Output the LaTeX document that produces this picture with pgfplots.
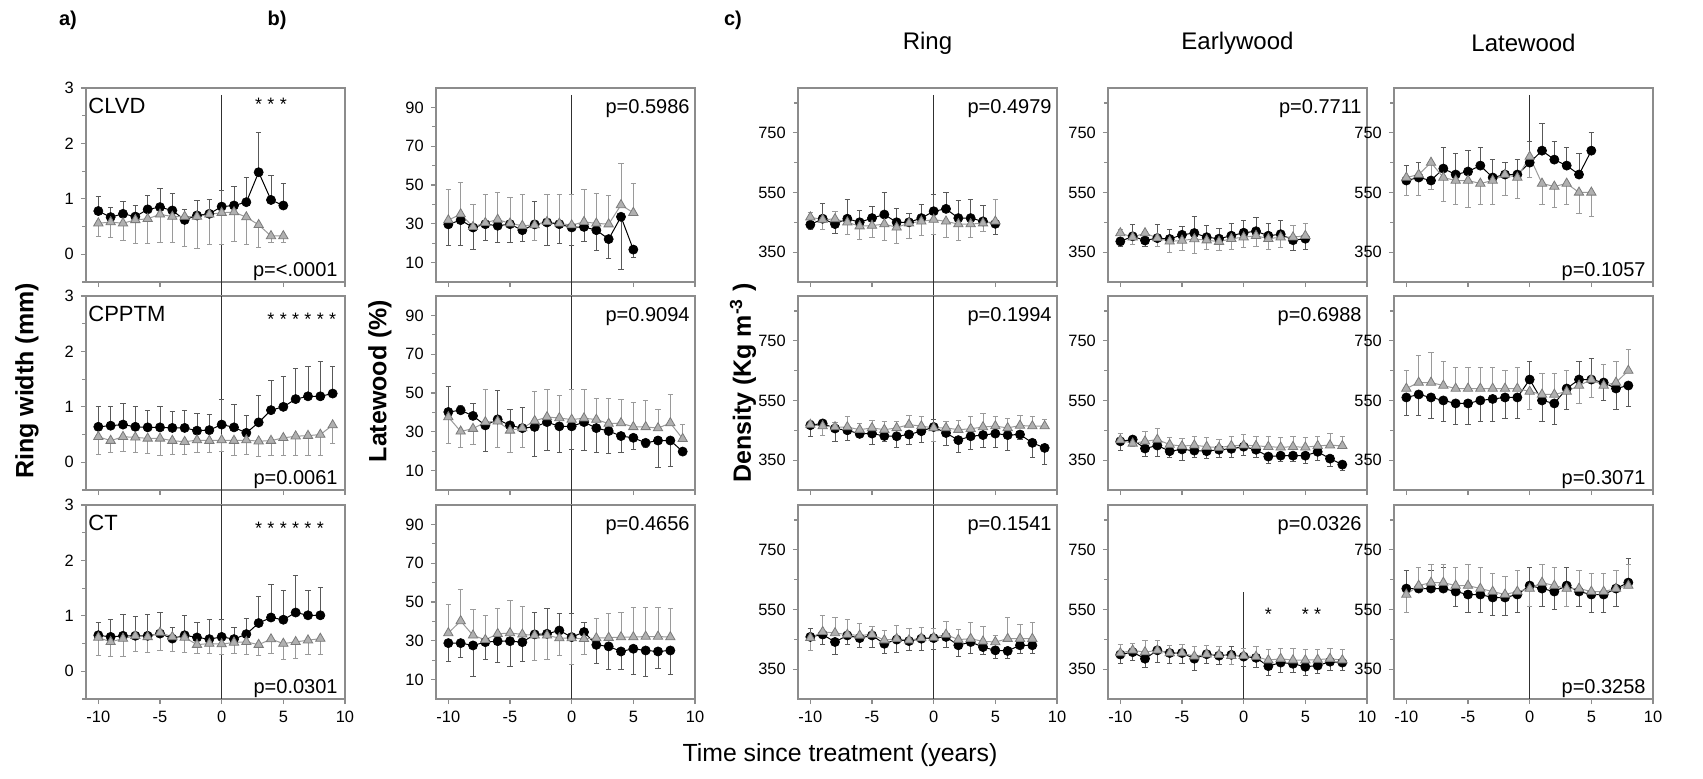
\documentclass[border=0pt]{standalone}
\usepackage{fontspec}
\setmainfont{Liberation Sans}
\usepackage{pgfplots}
\pgfplotsset{compat=1.18}
\definecolor{axgray}{HTML}{8C8C8C}
\definecolor{trifill}{HTML}{B0B0B0}
\definecolor{triedge}{HTML}{7A7A7A}
\definecolor{gline}{HTML}{9A9A9A}
\definecolor{vline}{HTML}{303030}
\pgfplotsset{
 panel/.style={scale only axis, width=129.5pt, height=97pt, xmin=-11, xmax=10, xtick={-10,-5,0,5,10},
   axis line style={axgray, line width=0.6pt}, tick style={axgray, line width=0.6pt},
   major tick length=2.6pt, minor tick length=1.8pt, tick align=outside, xtick pos=bottom, ytick pos=left,
   tick label style={font=\fontsize{8.2}{9}\selectfont, black}, /pgf/number format/assume math mode=true,
   clip=false},
 pa/.style={panel, ymin=-0.5, ymax=3, ytick={0,1,2,3}, minor ytick={-0.5,0.5,1.5,2.5}},
 pb/.style={panel, ymin=0, ymax=100, ytick={10,30,50,70,90}, minor ytick={20,40,60,80}},
 pc/.style={panel, ymin=250, ymax=900, ytick={350,550,750}, minor ytick={450,650,850}},
 blk/.style={draw=black, line width=0.5pt, mark=*, mark size=2.3pt, mark options={fill=black, draw=black, line width=0.3pt},
   error bars/.cd, y dir=both, y explicit, error bar style={draw=black!65, line width=0.45pt},
   error mark options={rotate=90, draw=black!65, line width=0.45pt, mark size=1.4pt}},
 gry/.style={draw=gline, line width=0.5pt, mark=triangle*, mark size=2.7pt, mark options={fill=trifill, draw=triedge, line width=0.4pt},
   error bars/.cd, y dir=both, y explicit, error bar style={draw=gline, line width=0.45pt},
   error mark options={rotate=90, draw=gline, line width=0.45pt, mark size=1.4pt}},
}
\newcommand{\ser}[2]{\addplot[#1] table[x=x,y=y,row sep=\\,y error plus expr={max(\thisrow{b}-\thisrow{y},0)},y error minus expr={max(\thisrow{y}-\thisrow{b},0)}] {x y b\\ #2};}
\newcommand{\ptop}[1]{\node[anchor=base east, inner sep=0pt, font=\fontsize{10}{10}\selectfont] at ([xshift=-2.5pt,yshift=-12.6pt]rel axis cs:1,1) {#1};}
\newcommand{\pbot}[1]{\node[anchor=base east, inner sep=0pt, font=\fontsize{10}{10}\selectfont] at ([xshift=-3.5pt,yshift=2.6pt]rel axis cs:1,0) {#1};}
\newcommand{\plab}[1]{\node[anchor=base west, inner sep=0pt, font=\fontsize{11}{11}\selectfont] at ([xshift=1pt,yshift=-12.6pt]rel axis cs:0,1) {#1};}
\newcommand{\st}[2]{\node[anchor=base, inner sep=0pt, font=\fontsize{9}{9}\selectfont] at (axis cs:#1,#2) {*};}
\begin{document}
\begin{tikzpicture}
\path[use as bounding box] (0pt,0pt) rectangle (851.5pt,389.5pt);
% ---------------- column a ----------------
\begin{axis}[pa, at={(43pt,345.5pt)}, anchor=north west, xticklabels={}]
\draw[vline, line width=0.75pt] (axis cs:0,2.874) -- ([yshift=-7pt]axis cs:0,-0.5);
\ser{blk}{-10 0.78 1.04\\ -9 0.67 0.85\\ -8 0.73 0.96\\ -7 0.68 0.88\\ -6 0.81 1.07\\ -5 0.85 1.18\\ -4 0.79 1.09\\ -3 0.62 0.80\\ -2 0.70 0.97\\ -1 0.73 0.99\\ 0 0.86 1.15\\ 1 0.88 1.23\\ 2 0.94 1.38\\ 3 1.48 2.20\\ 4 0.98 1.42\\ 5 0.88 1.27\\}
\ser{gry}{-10 0.56 0.33\\ -9 0.58 0.31\\ -8 0.56 0.25\\ -7 0.62 0.20\\ -6 0.64 0.20\\ -5 0.72 0.21\\ -4 0.68 0.21\\ -3 0.68 0.15\\ -2 0.68 0.11\\ -1 0.72 0.17\\ 0 0.75 0.18\\ 1 0.76 0.23\\ 2 0.67 0.17\\ 3 0.53 0.12\\ 4 0.33 0.21\\ 5 0.33 0.21\\}
\plab{CLVD}\pbot{p=<.0001}
\st{3}{2.596}\st{4}{2.596}\st{5}{2.596}
\end{axis}
\begin{axis}[pa, at={(43pt,241.5pt)}, anchor=north west, xticklabels={}]
\draw[vline, line width=0.75pt] (axis cs:0,3) -- ([yshift=-7.5pt]axis cs:0,-0.5);
\ser{blk}{-10 0.64 1.01\\ -9 0.66 1.01\\ -8 0.68 1.06\\ -7 0.64 1.01\\ -6 0.63 0.94\\ -5 0.63 1.01\\ -4 0.62 0.91\\ -3 0.62 0.94\\ -2 0.57 0.88\\ -1 0.58 0.86\\ 0 0.68 1.13\\ 1 0.63 1.04\\ 2 0.53 0.85\\ 3 0.72 1.21\\ 4 0.94 1.48\\ 5 1.00 1.55\\ 6 1.14 1.69\\ 7 1.19 1.72\\ 8 1.19 1.81\\ 9 1.24 1.72\\}
\ser{gry}{-10 0.46 0.14\\ -9 0.39 0.18\\ -8 0.46 0.20\\ -7 0.45 0.18\\ -6 0.43 0.16\\ -5 0.43 0.13\\ -4 0.39 0.15\\ -3 0.37 0.15\\ -2 0.40 0.17\\ -1 0.39 0.17\\ 0 0.40 0.19\\ 1 0.39 0.12\\ 2 0.40 0.15\\ 3 0.38 0.10\\ 4 0.39 0.12\\ 5 0.44 0.12\\ 6 0.47 0.12\\ 7 0.48 0.13\\ 8 0.50 0.12\\ 9 0.67 0.34\\}
\plab{CPPTM}\pbot{p=0.0061}
\st{4}{2.459}\st{5}{2.459}\st{6}{2.459}\st{7}{2.459}\st{8}{2.459}\st{9}{2.459}
\end{axis}
\begin{axis}[pa, at={(43pt,137pt)}, anchor=north west]
\draw[vline, line width=0.75pt] (axis cs:0,3) -- (axis cs:0,-0.5);
\ser{blk}{-10 0.65 0.88\\ -9 0.62 0.94\\ -8 0.64 1.02\\ -7 0.64 0.99\\ -6 0.64 1.02\\ -5 0.68 1.06\\ -4 0.59 0.79\\ -3 0.65 1.00\\ -2 0.61 0.88\\ -1 0.58 0.93\\ 0 0.62 0.94\\ 1 0.58 0.79\\ 2 0.67 0.96\\ 3 0.87 1.35\\ 4 0.97 1.56\\ 5 0.93 1.45\\ 6 1.06 1.72\\ 7 1.01 1.46\\ 8 1.01 1.52\\}
\ser{gry}{-10 0.61 0.29\\ -9 0.53 0.26\\ -8 0.59 0.26\\ -7 0.64 0.35\\ -6 0.62 0.34\\ -5 0.70 0.38\\ -4 0.62 0.35\\ -3 0.61 0.34\\ -2 0.48 0.32\\ -1 0.50 0.32\\ 0 0.49 0.31\\ 1 0.52 0.32\\ 2 0.53 0.31\\ 3 0.48 0.28\\ 4 0.58 0.32\\ 5 0.50 0.21\\ 6 0.53 0.23\\ 7 0.56 0.31\\ 8 0.59 0.31\\}
\plab{CT}\pbot{p=0.0301}
\st{3}{2.459}\st{4}{2.459}\st{5}{2.459}\st{6}{2.459}\st{7}{2.459}\st{8}{2.459}
\end{axis}
% ---------------- column b ----------------
\begin{axis}[pb, at={(218pt,345.5pt)}, anchor=north west, xticklabels={}]
\draw[vline, line width=0.75pt] (axis cs:0,96.4) -- ([yshift=-7pt]axis cs:0,0);
\ser{blk}{-10 29.7 18.6\\ -9 31.9 19.0\\ -8 28.1 16.9\\ -7 29.8 21.2\\ -6 29.0 20.3\\ -5 29.8 20.3\\ -4 26.7 20.7\\ -3 29.7 41.7\\ -2 30.7 19.0\\ -1 29.8 19.8\\ 0 28.1 19.0\\ 1 28.4 20.7\\ 2 26.7 16.0\\ 3 22.1 12.1\\ 4 33.6 6.6\\ 5 16.7 12.9\\}
\ser{gry}{-10 31.9 47.9\\ -9 35.0 51.4\\ -8 28.4 40.2\\ -7 30.5 45.2\\ -6 32.2 46.0\\ -5 30.2 43.6\\ -4 29.0 45.3\\ -3 29.3 21.6\\ -2 31.0 45.3\\ -1 30.2 45.3\\ 0 29.3 45.3\\ 1 31.0 47.8\\ 2 30.2 45.7\\ 3 29.8 44.5\\ 4 39.7 60.9\\ 5 35.7 50.9\\}
\ptop{p=0.5986}
\end{axis}
\begin{axis}[pb, at={(218pt,241.5pt)}, anchor=north west, xticklabels={}]
\draw[vline, line width=0.75pt] (axis cs:0,100) -- ([yshift=-7.5pt]axis cs:0,0);
\ser{blk}{-10 40.2 53.2\\ -9 41.1 43.7\\ -8 38.2 44.5\\ -7 33.3 19.8\\ -6 36.4 51.5\\ -5 33.3 41.4\\ -4 31.9 42.8\\ -3 32.5 17.4\\ -2 35.0 20.4\\ -1 32.8 19.5\\ 0 32.8 20.9\\ 1 35.0 20.4\\ 2 31.9 19.2\\ 3 30.4 19.0\\ 4 27.8 19.2\\ 5 26.9 20.7\\ 6 24.3 21.7\\ 7 25.5 11.7\\ 8 25.5 12.1\\ 9 19.8 19.8\\}
\ser{gry}{-10 37.6 24.2\\ -9 30.2 22.1\\ -8 31.6 23.5\\ -7 35.0 52.0\\ -6 35.4 21.7\\ -5 30.7 19.2\\ -4 31.9 22.1\\ -3 35.6 50.6\\ -2 37.6 51.8\\ -1 37.1 48.9\\ 0 36.3 52.0\\ 1 37.0 52.0\\ 2 36.3 47.1\\ 3 34.2 47.1\\ 4 34.5 46.8\\ 5 32.5 44.9\\ 6 32.5 45.9\\ 7 31.9 41.4\\ 8 34.5 49.4\\ 9 26.4 33.8\\}
\ptop{p=0.9094}
\end{axis}
\begin{axis}[pb, at={(218pt,137pt)}, anchor=north west]
\draw[vline, line width=0.75pt] (axis cs:0,100) -- (axis cs:0,0);
\ser{blk}{-10 28.8 19.5\\ -9 28.8 21.6\\ -8 27.6 11.6\\ -7 29.3 20.2\\ -6 29.8 18.6\\ -5 29.8 16.7\\ -4 29.3 19.3\\ -3 33.3 44.8\\ -2 33.6 46.6\\ -1 35.3 44.0\\ 0 31.9 44.0\\ 1 34.5 39.3\\ 2 27.9 18.1\\ 3 27.1 15.0\\ 4 24.5 15.0\\ 5 25.9 12.9\\ 6 25.0 11.7\\ 7 24.5 16.0\\ 8 25.0 12.9\\}
\ser{gry}{-10 34.0 48.8\\ -9 40.2 56.4\\ -8 32.8 46.2\\ -7 30.5 43.1\\ -6 33.6 46.6\\ -5 34.0 50.9\\ -4 33.3 47.8\\ -3 32.8 19.8\\ -2 32.8 20.3\\ -1 31.4 22.4\\ 0 31.4 17.6\\ 1 31.0 22.8\\ 2 31.4 41.4\\ 3 31.6 44.0\\ 4 31.9 44.8\\ 5 31.9 47.4\\ 6 32.2 47.4\\ 7 32.2 47.4\\ 8 31.9 46.6\\}
\ptop{p=0.4656}
\end{axis}
% ---------------- column c1 Ring ----------------
\begin{axis}[pc, at={(399pt,345.5pt)}, anchor=north west, xticklabels={}]
\draw[vline, line width=0.75pt] (axis cs:0,876.5) -- ([yshift=-7pt]axis cs:0,250);
\ser{blk}{-10 442 426\\ -9 462 512\\ -8 444 414\\ -7 462 526\\ -6 450 490\\ -5 464 503\\ -4 476 550\\ -3 450 498\\ -2 450 481\\ -1 464 509\\ 0 487 543\\ 1 495 551\\ 2 464 523\\ 3 464 526\\ 4 453 506\\ 5 445 408\\}
\ser{gry}{-10 467 483\\ -9 459 426\\ -8 461 487\\ -7 450 409\\ -6 437 392\\ -5 439 400\\ -4 444 389\\ -3 433 380\\ -2 447 397\\ -1 453 405\\ 0 459 408\\ 1 453 400\\ 2 444 389\\ 3 444 400\\ 4 447 419\\ 5 453 526\\}
\ptop{p=0.4979}
\end{axis}
\begin{axis}[pc, at={(399pt,241.5pt)}, anchor=north west, xticklabels={}]
\draw[vline, line width=0.75pt] (axis cs:0,900) -- ([yshift=-7.5pt]axis cs:0,250);
\ser{blk}{-10 467 430\\ -9 473 483\\ -8 456 413\\ -7 450 417\\ -6 438 425\\ -5 439 402\\ -4 431 413\\ -3 430 391\\ -2 436 402\\ -1 447 408\\ 0 461 488\\ 1 441 399\\ 2 417 377\\ 3 430 386\\ 4 434 391\\ 5 439 391\\ 6 434 382\\ 7 436 419\\ 8 408 360\\ 9 391 335\\}
\ser{gry}{-10 469 483\\ -9 464 432\\ -8 461 475\\ -7 461 497\\ -6 452 472\\ -5 458 483\\ -4 452 480\\ -3 458 478\\ -2 469 499\\ -1 464 495\\ 0 458 414\\ 1 458 480\\ 2 452 484\\ 3 455 497\\ 4 461 505\\ 5 464 497\\ 6 458 491\\ 7 466 499\\ 8 464 497\\ 9 464 488\\}
\ptop{p=0.1994}
\end{axis}
\begin{axis}[pc, at={(399pt,137pt)}, anchor=north west]
\draw[vline, line width=0.75pt] (axis cs:0,900) -- (axis cs:0,250);
\ser{blk}{-10 458 486\\ -9 466 432\\ -8 441 399\\ -7 463 432\\ -6 454 424\\ -5 463 424\\ -4 435 402\\ -3 449 407\\ -2 444 413\\ -1 452 413\\ 0 454 415\\ 1 458 424\\ 2 430 393\\ 3 441 404\\ 4 424 398\\ 5 413 385\\ 6 411 385\\ 7 430 402\\ 8 430 404\\}
\ser{gry}{-10 455 413\\ -9 475 531\\ -8 471 522\\ -7 466 516\\ -6 463 503\\ -5 466 494\\ -4 447 480\\ -3 452 497\\ -2 447 486\\ -1 454 489\\ 0 456 486\\ 1 466 511\\ 2 449 483\\ 3 452 505\\ 4 443 494\\ 5 441 463\\ 6 452 522\\ 7 452 500\\ 8 452 508\\}
\ptop{p=0.1541}
\end{axis}
% ---------------- column c2 Earlywood ----------------
\begin{axis}[pc, at={(554pt,345.5pt)}, anchor=north west, xticklabels={}]
\ser{blk}{-10 386 370\\ -9 403 444\\ -8 389 369\\ -7 397 444\\ -6 394 427\\ -5 408 436\\ -4 414 468\\ -3 400 440\\ -2 395 430\\ -1 405 445\\ 0 415 455\\ 1 420 465\\ 2 405 445\\ 3 410 455\\ 4 390 355\\ 5 395 360\\}
\ser{gry}{-10 414 427\\ -9 400 375\\ -8 414 419\\ -7 397 369\\ -6 386 349\\ -5 389 356\\ -4 394 347\\ -3 390 360\\ -2 385 355\\ -1 395 360\\ 0 400 365\\ 1 405 370\\ 2 395 360\\ 3 400 365\\ 4 400 440\\ 5 405 445\\}
\ptop{p=0.7711}
\end{axis}
\begin{axis}[pc, at={(554pt,241.5pt)}, anchor=north west, xticklabels={}]
\ser{blk}{-10 413 383\\ -9 419 425\\ -8 389 361\\ -7 399 363\\ -6 380 360\\ -5 386 350\\ -4 382 358\\ -3 380 355\\ -2 385 360\\ -1 388 360\\ 0 395 365\\ 1 385 360\\ 2 362 340\\ 3 365 345\\ 4 365 345\\ 5 365 340\\ 6 378 350\\ 7 355 330\\ 8 335 315\\}
\ser{gry}{-10 417 441\\ -9 406 397\\ -8 413 445\\ -7 419 455\\ -6 402 425\\ -5 397 422\\ -4 400 430\\ -3 395 425\\ -2 392 420\\ -1 398 430\\ 0 400 435\\ 1 398 430\\ 2 395 430\\ 3 393 425\\ 4 395 430\\ 5 393 425\\ 6 398 430\\ 7 400 440\\ 8 398 430\\}
\ptop{p=0.6988}
\end{axis}
\begin{axis}[pc, at={(554pt,137pt)}, anchor=north west]
\draw[vline, line width=0.75pt] (axis cs:0,608) -- (axis cs:0,250);
\ser{blk}{-10 399 368\\ -9 407 379\\ -8 385 357\\ -7 413 374\\ -6 404 370\\ -5 404 368\\ -4 385 346\\ -3 400 370\\ -2 395 365\\ -1 398 425\\ 0 392 360\\ 1 388 355\\ 2 360 330\\ 3 372 340\\ 4 368 338\\ 5 358 330\\ 6 362 335\\ 7 375 345\\ 8 372 345\\}
\ser{gry}{-10 404 433\\ -9 413 435\\ -8 407 447\\ -7 413 447\\ -6 404 430\\ -5 404 433\\ -4 393 425\\ -3 400 430\\ -2 398 425\\ -1 395 365\\ 0 395 420\\ 1 392 425\\ 2 380 415\\ 3 385 420\\ 4 380 418\\ 5 380 415\\ 6 382 415\\ 7 385 420\\ 8 380 415\\}
\ptop{p=0.0326}
\st{2}{513}\st{5}{513}\st{6}{513}
\end{axis}
% ---------------- column c3 Latewood ----------------
\begin{axis}[pc, at={(697pt,345.5pt)}, anchor=north west, xticklabels={}]
\draw[vline, line width=0.75pt] (axis cs:0,876.5) -- (axis cs:0,700);
\ser{blk}{-10 590 640\\ -9 600 650\\ -8 590 650\\ -7 630 700\\ -6 610 680\\ -5 620 690\\ -4 640 700\\ -3 600 660\\ -2 610 650\\ -1 610 660\\ 0 650 720\\ 1 690 780\\ 2 660 720\\ 3 640 700\\ 4 610 680\\ 5 690 750\\}
\ser{gry}{-10 600 540\\ -9 610 540\\ -8 650 560\\ -7 600 520\\ -6 590 510\\ -5 590 500\\ -4 580 510\\ -3 590 510\\ -2 610 540\\ -1 600 530\\ 0 670 600\\ 1 580 510\\ 2 570 500\\ 3 580 510\\ 4 550 480\\ 5 550 470\\}
\pbot{p=0.1057}
\end{axis}
\begin{axis}[pc, at={(697pt,241.5pt)}, anchor=north west, xticklabels={}]
\ser{blk}{-10 560 500\\ -9 570 500\\ -8 560 490\\ -7 550 480\\ -6 540 470\\ -5 540 470\\ -4 550 480\\ -3 555 480\\ -2 560 490\\ -1 560 490\\ 0 620 680\\ 1 550 480\\ 2 540 470\\ 3 590 520\\ 4 620 680\\ 5 620 690\\ 6 610 550\\ 7 590 520\\ 8 600 530\\}
\ser{gry}{-10 590 650\\ -9 610 700\\ -8 610 710\\ -7 600 680\\ -6 590 660\\ -5 590 660\\ -4 590 660\\ -3 590 660\\ -2 590 650\\ -1 590 660\\ 0 580 520\\ 1 570 640\\ 2 570 640\\ 3 580 650\\ 4 600 540\\ 5 620 560\\ 6 600 670\\ 7 610 680\\ 8 650 720\\}
\pbot{p=0.3071}
\end{axis}
\begin{axis}[pc, at={(697pt,137pt)}, anchor=north west]
\draw[vline, line width=0.75pt] (axis cs:0,640) -- (axis cs:0,250);
\ser{blk}{-10 620 680\\ -9 620 690\\ -8 620 680\\ -7 620 690\\ -6 610 560\\ -5 600 540\\ -4 600 540\\ -3 590 530\\ -2 590 530\\ -1 600 540\\ 0 630 690\\ 1 620 560\\ 2 610 550\\ 3 630 690\\ 4 610 560\\ 5 600 540\\ 6 600 540\\ 7 620 560\\ 8 640 720\\}
\ser{gry}{-10 600 540\\ -9 630 690\\ -8 640 700\\ -7 640 700\\ -6 630 690\\ -5 630 700\\ -4 620 690\\ -3 610 670\\ -2 600 660\\ -1 610 680\\ 0 620 560\\ 1 640 700\\ 2 630 690\\ 3 620 560\\ 4 620 680\\ 5 610 670\\ 6 610 670\\ 7 620 680\\ 8 630 700\\}
\pbot{p=0.3258}
\end{axis}
% ---------------- texts ----------------
\node[font=\bfseries\fontsize{10}{10}\selectfont] at (34pt,379.5pt) {a)};
\node[font=\bfseries\fontsize{10}{10}\selectfont] at (138.5pt,379.5pt) {b)};
\node[font=\bfseries\fontsize{10}{10}\selectfont] at (366.5pt,379.5pt) {c)};
\node[font=\fontsize{12}{12}\selectfont] at (463.75pt,368pt) {Ring};
\node[font=\fontsize{12}{12}\selectfont] at (618.75pt,368pt) {Earlywood};
\node[font=\fontsize{12}{12}\selectfont] at (761.75pt,368pt) {Latewood};
\node[rotate=90, font=\bfseries\fontsize{12.5}{12.5}\selectfont] at (13.5pt,199pt) {Ring width (mm)};
\node[rotate=90, font=\bfseries\fontsize{12.5}{12.5}\selectfont] at (190pt,199pt) {Latewood (\%)};
\node[rotate=90, font=\bfseries\fontsize{12.5}{12.5}\selectfont] at (371.5pt,198pt) {Density (Kg m\textsuperscript{-3} )};
\node[font=\fontsize{12.4}{12.4}\selectfont] at (420pt,12pt) {Time since treatment (years)};
\end{tikzpicture}
\end{document}
